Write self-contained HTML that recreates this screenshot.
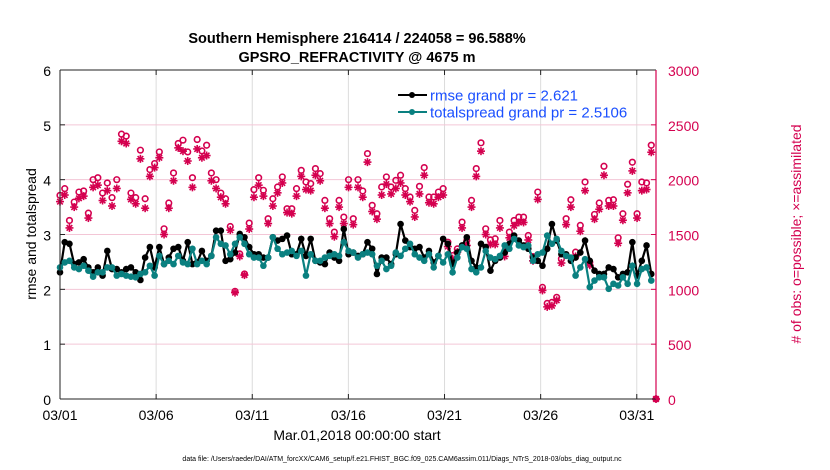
<!DOCTYPE html>
<html><head><meta charset="utf-8">
<style>
body{margin:0;background:#fff;}
svg{display:block;font-family:"Liberation Sans",Arial,sans-serif;}
</style></head>
<body>
<svg id="chart" width="830" height="470" viewBox="0 0 830 470">
<text x="357" y="43" text-anchor="middle" font-size="14.5" font-weight="bold">Southern Hemisphere 216414 / 224058 = 96.588%</text>
<text x="357" y="62" text-anchor="middle" font-size="14.5" font-weight="bold">GPSRO_REFRACTIVITY @ 4675 m</text>
<g id="grid"></g>
<g id="marks"></g>
<g id="axes"></g>
<g id="legend">
  <line x1="398" y1="95" x2="427" y2="95" stroke="#000" stroke-width="2"/>
  <circle cx="412" cy="95" r="3" fill="#000"/>
  <text x="430" y="100.5" font-size="15" fill="#1a4fff">rmse grand pr = 2.621</text>
  <line x1="398" y1="112" x2="427" y2="112" stroke="#0a8080" stroke-width="2"/>
  <circle cx="412" cy="112" r="3" fill="#0a8080"/>
  <text x="430" y="117.5" font-size="15" fill="#1a4fff">totalspread grand pr = 2.5106</text>
</g>
<text transform="translate(36,234) rotate(-90)" text-anchor="middle" font-size="14">rmse and totalspread</text>
<text transform="translate(801,234) rotate(-90)" text-anchor="middle" font-size="14" fill="#d4004f"># of obs: o=possible; ×=assimilated</text>
<text x="357" y="440" text-anchor="middle" font-size="14">Mar.01,2018 00:00:00 start</text>
<text x="402" y="461" text-anchor="middle" font-size="7">data file: /Users/raeder/DAI/ATM_forcXX/CAM6_setup/f.e21.FHIST_BGC.f09_025.CAM6assim.011/Diags_NTrS_2018-03/obs_diag_output.nc</text>
</svg>
<script>
const rmse = [2.31,2.86,2.83,2.46,2.49,2.55,2.40,2.31,2.40,2.25,2.70,2.37,2.37,2.31,2.37,2.40,2.31,2.17,2.58,2.77,2.40,2.77,2.46,2.58,2.74,2.77,2.52,2.86,2.46,2.49,2.70,2.52,2.61,3.07,3.07,2.52,2.55,2.67,3.01,2.95,2.77,2.64,2.64,2.58,2.58,2.95,2.89,2.92,2.98,2.64,2.64,2.92,2.61,2.92,2.52,2.49,2.46,2.67,2.58,2.52,3.10,2.64,
2.67,2.61,2.64,2.86,2.74,2.28,2.58,2.58,2.46,2.64,3.19,2.89,2.77,2.74,2.77,2.58,2.70,2.49,2.61,2.92,2.83,2.46,2.67,2.80,2.95,2.52,2.40,2.83,2.77,2.34,2.52,2.58,2.67,2.83,2.98,2.89,2.80,2.74,2.58,2.52,2.43,2.74,3.19,2.89,2.64,2.64,2.52,2.58,2.67,2.89,2.52,2.34,2.28,2.28,2.40,2.37,2.22,2.28,2.31,2.86,2.25,2.52,2.80,2.28,null];
const spread = [2.40,2.49,2.52,2.40,2.37,2.43,2.34,2.23,2.31,2.31,2.40,2.40,2.25,2.28,2.25,2.23,2.22,2.28,2.31,2.43,2.25,2.61,2.46,2.52,2.46,2.61,2.49,2.46,2.74,2.46,2.52,2.46,2.61,2.95,2.83,2.80,2.64,2.83,2.95,2.83,2.64,2.58,2.58,2.43,2.58,2.95,2.74,2.64,2.67,2.70,2.61,2.70,2.25,2.64,2.52,2.52,2.58,2.61,2.64,2.61,2.86,2.70,
2.67,2.58,2.64,2.67,2.64,2.43,2.52,2.37,2.43,2.67,2.61,2.74,2.83,2.64,2.58,2.52,2.64,2.40,2.61,2.49,2.64,2.31,2.58,2.77,2.74,2.37,2.31,2.40,2.70,2.58,2.55,2.61,2.80,2.74,2.92,2.80,2.77,2.80,2.52,2.64,2.67,2.98,2.83,2.92,2.70,2.61,2.58,2.25,2.40,2.55,2.04,2.16,2.22,2.22,2.01,2.10,2.07,2.22,2.10,2.43,2.10,2.37,2.40,2.16,null];
const obsPossible = [1857,1918,1628,1796,1887,1897,1695,2000,2018,1878,1970,1836,2000,2415,2397,1878,1836,2269,1826,2092,2147,2253,1552,1787,2061,2330,2360,2253,2018,2366,2262,2314,2061,2000,1878,1826,1573,982,1323,1140,1604,1909,2018,1903,1644,1826,1933,2025,1735,1735,1918,2085,1979,1964,2101,2055,1811,1644,1522,1811,1659,2000,
1644,2000,1897,2238,1766,1689,1933,2025,1933,1994,2040,1918,1842,1720,1939,2110,1842,1842,1887,1918,1430,1308,1369,1613,1445,1811,2101,2336,1552,1451,1461,1628,1339,1522,1628,1659,1659,1491,1299,1887,1018,872,881,927,1278,1644,1817,1339,1583,1979,1247,1683,1787,2122,1811,1817,1470,1689,1958,2159,1689,1979,1970,2314,0];
const obsAssim = [1800,1860,1560,1750,1830,1850,1650,1930,1950,1810,1900,1760,1920,2350,2330,1820,1780,2190,1740,2030,2110,2200,1500,1740,1990,2290,2260,2170,1930,2280,2200,2220,1990,1920,1840,1780,1540,970,1300,1130,1550,1840,1950,1850,1600,1760,1880,1970,1700,1690,1850,2030,1910,1900,2040,1990,1740,1600,1480,1750,1600,1930,
1590,1930,1840,2160,1710,1640,1860,1960,1870,1920,1970,1860,1800,1660,1870,2040,1790,1780,1840,1860,1390,1280,1340,1560,1400,1750,2030,2260,1500,1410,1410,1560,1300,1470,1580,1610,1610,1450,1260,1820,990,840,850,900,1240,1590,1750,1300,1530,1900,1220,1640,1730,2040,1760,1760,1420,1630,1880,2080,1650,1900,1910,2250,0];
const leftTicks = [0,1,2,3,4,5,6];
const rightTicks = [0,500,1000,1500,2000,2500,3000];
const dayTicks = [0,5,10,15,20,25,30];
const dayLabels = ["03/01","03/06","03/11","03/16","03/21","03/26","03/31"];
const totalDays = 31;

const L=60,R=656,T=70,B=399;
const NS='http://www.w3.org/2000/svg';
const n = obsPossible.length;
function xs(d){return L+(d/totalDays)*(R-L);}
function yl(v){return B-(v/6)*(B-T);}
function yr(v){return B-(v/3000)*(B-T);}
function tday(i){return i*totalDays/(n-1);}
function mk(tag,attrs,parent){const e=document.createElementNS(NS,tag);for(const k in attrs)e.setAttribute(k,attrs[k]);parent.appendChild(e);return e;}
const grid=document.getElementById('grid'),marks=document.getElementById('marks'),axes=document.getElementById('axes');

dayTicks.forEach((d,i)=>{
  const g=mk('line',{x1:xs(d),x2:xs(d),y1:T,y2:B,stroke:'#dcdcdc','stroke-width':1},grid);
  
  
  mk('line',{x1:xs(d),x2:xs(d),y1:B,y2:B-5,stroke:'#222'},axes);
  mk('line',{x1:xs(d),x2:xs(d),y1:T,y2:T+5,stroke:'#222'},axes);
  const t=mk('text',{x:xs(d),y:B+21,'text-anchor':'middle','font-size':14},axes);
  t.textContent=dayLabels[i];
  
  
});
rightTicks.forEach(v=>{
  const g=mk('line',{x1:L,x2:R,y1:yr(v),y2:yr(v),stroke:'#f3c6d6','stroke-width':1},grid);
  
  
  mk('line',{x1:R,x2:R-5,y1:yr(v),y2:yr(v),stroke:'#d4004f'},axes);
  const t=mk('text',{x:R+12,y:yr(v)+6,'font-size':14,fill:'#d4004f'},axes);
  t.textContent=v;
  
  
});
leftTicks.forEach(v=>{
  mk('line',{x1:L,x2:L+5,y1:yl(v),y2:yl(v),stroke:'#222'},axes);
  const t=mk('text',{x:L-9,y:yl(v)+6,'text-anchor':'end','font-size':14},axes);
  t.textContent=v;
  
  
});
mk('line',{x1:L,x2:R,y1:T,y2:T,stroke:'#222'},axes);
mk('line',{x1:L,x2:R,y1:B,y2:B,stroke:'#222'},axes);
mk('line',{x1:L,x2:L,y1:T,y2:B,stroke:'#222'},axes);
mk('line',{x1:R,x2:R,y1:T,y2:B,stroke:'#d4004f','stroke-width':1.2},axes);

const red='#d4004f';
for(let i=0;i<n;i++){
  const x=xs(tday(i));
  const ya=yr(obsAssim[i]);
  const a=mk('g',{stroke:red,'stroke-width':1.6},marks);
  
  
  const s=4;
  mk('line',{x1:x-s,x2:x+s,y1:ya,y2:ya},a);
  mk('line',{x1:x,x2:x,y1:ya-s,y2:ya+s},a);
  mk('line',{x1:x-s*0.7,x2:x+s*0.7,y1:ya-s*0.7,y2:ya+s*0.7},a);
  mk('line',{x1:x-s*0.7,x2:x+s*0.7,y1:ya+s*0.7,y2:ya-s*0.7},a);
  const c=mk('circle',{cx:x,cy:yr(obsPossible[i]),r:2.8,fill:obsPossible[i]===0?red:'none',stroke:red,'stroke-width':1.6},marks);
  
  
}
function series(arr,color,name){
  let d='';
  arr.forEach((v,i)=>{if(v==null)return;d+=(d?'L':'M')+xs(tday(i)).toFixed(1)+','+yl(v).toFixed(1);});
  const p=mk('path',{d:d,fill:'none',stroke:color,'stroke-width':2.2},marks);
  
  
  arr.forEach((v,i)=>{if(v==null)return;
    const c=mk('circle',{cx:xs(tday(i)),cy:yl(v),r:3.3,fill:color},marks);
    
    
  });
}
series(rmse,'#000','rmse');
series(spread,'#0a8080','totalspread');
</script>
</body></html>
